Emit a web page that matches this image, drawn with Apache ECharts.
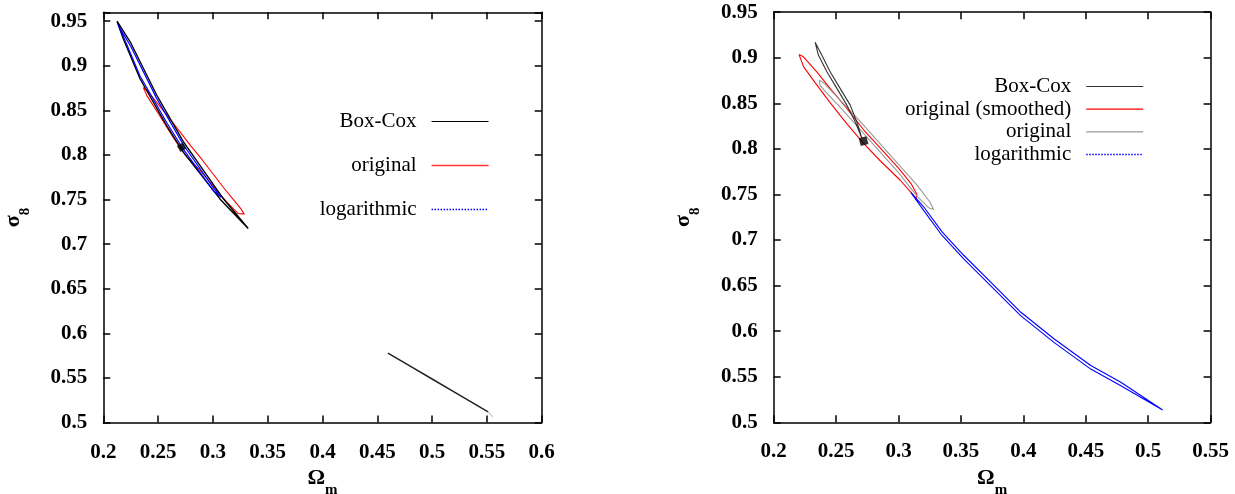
<!DOCTYPE html>
<html><head><meta charset="utf-8">
<script src="https://cdn.jsdelivr.net/npm/echarts@6/dist/echarts.min.js"></script>
<style>html,body{margin:0;padding:0;background:#fff}#c{width:1235px;height:494px}</style>
</head><body><div id="c"></div>
<script>
// ---------- axis ranges / ticks ----------
const tickStep = 0.05;
const leftXRange = [0.2, 0.6];
const leftYRange = [0.5, 0.96];
const rightXRange = [0.2, 0.55];
const rightYRange = [0.5, 0.95];

// ---------- legend labels ----------
const leftLegendLabels = ['Box-Cox', 'original', 'logarithmic'];
const rightLegendLabels = ['Box-Cox', 'original (smoothed)', 'original', 'logarithmic'];

// ---------- left panel contours ([Omega_m, sigma_8]) ----------
const leftBoxCox = [
  [0.2125,0.9500],[0.2244,0.9272],[0.2487,0.8673],[0.2730,0.8150],[0.3094,0.7512],[0.3322,0.7176],
  [0.3064,0.7508],[0.2730,0.8032],[0.2578,0.8330],[0.2335,0.8855],[0.2182,0.9303],[0.2125,0.9500]
];
const leftBoxCoxIsland = [
  [0.4597,0.5780],[0.4800,0.5633],[0.5000,0.5489],[0.5200,0.5345],[0.5511,0.5120]
];
const leftBoxCoxTail = [[0.5511,0.5120],[0.5554,0.5064]];
const leftOriginal = [
  [0.2365,0.8757],[0.2396,0.8727],[0.2500,0.8570],[0.2600,0.8415],[0.2700,0.8260],[0.2800,0.8100],
  [0.2900,0.7950],[0.3000,0.7790],[0.3100,0.7630],[0.3200,0.7480],[0.3260,0.7390],[0.3286,0.7337],
  [0.3231,0.7344],[0.3125,0.7474],[0.3034,0.7605],[0.2882,0.7830],[0.2761,0.7979],[0.2654,0.8166],
  [0.2578,0.8315],[0.2502,0.8465],[0.2400,0.8660],[0.2365,0.8757]
];
const leftLog = [
  [0.2137,0.9455],[0.2250,0.9220],[0.2487,0.8635],[0.2730,0.8115],[0.3000,0.7640],[0.3075,0.7525],
  [0.3000,0.7605],[0.2730,0.8065],[0.2578,0.8365],[0.2335,0.8885],[0.2190,0.9310],[0.2137,0.9455]
];
const leftFiducial = [[0.2715,0.8088]];

// ---------- right panel contours ----------
const rightBoxCox = [
  [0.2332,0.9169],[0.2385,0.9030],[0.2452,0.8846],[0.2532,0.8664],[0.2613,0.8480],[0.2666,0.8297],[0.2707,0.8114],
  [0.2653,0.8297],[0.2586,0.8480],[0.2506,0.8664],[0.2426,0.8846],[0.2358,0.9030],[0.2332,0.9169]
];
const rightOriginalSmoothed = [
  [0.2203,0.9035],[0.2238,0.9011],[0.2345,0.8846],[0.2452,0.8664],[0.2586,0.8444],[0.2720,0.8210],
  [0.2860,0.8000],[0.3000,0.7790],[0.3100,0.7620],[0.3148,0.7500],[0.3140,0.7455],
  [0.3108,0.7510],[0.3014,0.7656],[0.2853,0.7870],[0.2720,0.8060],[0.2590,0.8270],[0.2450,0.8510],
  [0.2330,0.8730],[0.2240,0.8900],[0.2203,0.9035]
];
const rightOriginal = [
  [0.2366,0.8755],[0.2400,0.8725],[0.2550,0.8510],[0.2700,0.8290],[0.2850,0.8060],[0.3000,0.7830],
  [0.3150,0.7600],[0.3250,0.7420],[0.3282,0.7334],
  [0.3240,0.7355],[0.3150,0.7480],[0.3000,0.7740],[0.2850,0.7970],[0.2700,0.8200],[0.2550,0.8430],
  [0.2420,0.8620],[0.2370,0.8700],[0.2366,0.8755]
];
const rightLog = [
  [0.3100,0.7520],[0.3201,0.7365],[0.3349,0.7090],[0.3522,0.6833],[0.3737,0.6540],[0.3978,0.6210],
  [0.4245,0.5917],[0.4540,0.5624],[0.4781,0.5440],[0.5116,0.5135],
  [0.5100,0.5128],[0.4781,0.5402],[0.4540,0.5584],[0.4245,0.5877],[0.3978,0.6170],[0.3737,0.6500],
  [0.3522,0.6793],[0.3349,0.7050],[0.3201,0.7325],[0.3120,0.7480],[0.3100,0.7520]
];
const rightFiducial = [[0.2720,0.8085]];

// ---------- chart ----------
const FONT = 'Liberation Serif';
function fmt(v) {
  const r = Math.round(v / tickStep);
  if (Math.abs(v - r * tickStep) > 1e-6) return '';
  return String(+v.toFixed(2));
}
const nameRich = {
  a: {fontFamily: FONT, fontSize: 22, fontWeight: 'bold', color: '#000', lineHeight: 30, verticalAlign: 'top'},
  b: {fontFamily: FONT, fontSize: 15, fontWeight: 'bold', color: '#000', lineHeight: 16, verticalAlign: 'bottom'}
};
const lineAx = {show: true, onZero: false, lineStyle: {color: '#000', width: 1.5}};
const tickAx = {show: true, inside: true, length: 7, lineStyle: {color: '#000', width: 1.5}};
const labelStyle = {fontFamily: FONT, fontSize: 21, fontWeight: 'bold', color: '#000', formatter: fmt, hideOverlap: false};

function xAxes(gi, r) {
  return [
    {type: 'value', gridIndex: gi, min: r[0], max: r[1], interval: tickStep, position: 'bottom',
     axisLine: lineAx, axisTick: tickAx, splitLine: {show: false},
     axisLabel: Object.assign({margin: 19, alignMinLabel: 'center', alignMaxLabel: 'center'}, labelStyle),
     name: '{a|Ω}{b|m}', nameLocation: 'middle', nameGap: 45, nameMoveOverlap: false,
     nameTextStyle: {rich: nameRich}},
    {type: 'value', gridIndex: gi, min: r[0], max: r[1], interval: tickStep, position: 'top',
     axisLine: lineAx, axisTick: tickAx, splitLine: {show: false}, axisLabel: {show: false}}
  ];
}
function yAxes(gi, r) {
  return [
    {type: 'value', gridIndex: gi, min: r[0], max: r[1], interval: tickStep, position: 'left',
     axisLine: lineAx, axisTick: tickAx, splitLine: {show: false},
     axisLabel: Object.assign({margin: 16}, labelStyle),
     name: '{a|σ}{b|8}', nameLocation: 'middle', nameGap: 71, nameRotate: 90, nameMoveOverlap: false,
     nameTextStyle: {rich: nameRich}},
    {type: 'value', gridIndex: gi, min: r[0], max: r[1], interval: tickStep, position: 'right',
     axisLine: lineAx, axisTick: tickAx, splitLine: {show: false}, axisLabel: {show: false}}
  ];
}
function contour(name, data, color, xi, width) {
  return {type: 'line', name: name, data: data, xAxisIndex: xi, yAxisIndex: xi,
    symbol: 'none', showSymbol: false, smooth: false, silent: true, animation: false,
    color: color, lineStyle: {color: color, width: width || 1.1}, z: 3};
}
const legendText = {fontFamily: FONT, fontSize: 21, color: '#000', padding: [0, 10, 0, 0], lineHeight: 21};

const option = {
  backgroundColor: '#fff',
  animation: false,
  grid: [
    {left: 103.3, top: 12.3, width: 438.4, height: 410.3, outerBoundsMode: 'none', containLabel: false},
    {left: 773.7, top: 12.2, width: 436.9, height: 410.1, outerBoundsMode: 'none', containLabel: false}
  ],
  xAxis: xAxes(0, leftXRange).concat(xAxes(1, rightXRange)),
  yAxis: yAxes(0, leftYRange).concat(yAxes(1, rightYRange)),
  legend: [
    {orient: 'vertical', align: 'right', right: 745.7, top: 111, padding: 0,
     itemWidth: 57, itemHeight: 10, itemGap: 23, selectedMode: false,
     itemStyle: {opacity: 0},
     formatter: n => n.slice(2), textStyle: legendText,
     data: [
       {name: 'L:' + leftLegendLabels[0], lineStyle: {width: 1.2, color: '#000000'}},
       {name: 'L:' + leftLegendLabels[1], lineStyle: {width: 1.5, color: '#ff3333'}},
       {name: 'L:' + leftLegendLabels[2], lineStyle: {width: 1.5, color: '#0000ff', type: 'dotted'}}
     ]},
    {orient: 'vertical', align: 'right', right: 91, top: 76, padding: 0,
     itemWidth: 57, itemHeight: 10, itemGap: 1.7, selectedMode: false,
     itemStyle: {opacity: 0},
     formatter: n => n.slice(2), textStyle: legendText,
     data: [
       {name: 'R:' + rightLegendLabels[0], lineStyle: {width: 1.2, color: '#333333'}},
       {name: 'R:' + rightLegendLabels[1], lineStyle: {width: 1.2, color: '#ff0000'}},
       {name: 'R:' + rightLegendLabels[2], lineStyle: {width: 1.2, color: '#999999'}},
       {name: 'R:' + rightLegendLabels[3], lineStyle: {width: 1.5, color: '#0000ff', type: 'dotted'}}
     ]}
  ],
  series: [
    contour('L:' + leftLegendLabels[1], leftOriginal, '#ff0000', 0),
    contour('L:' + leftLegendLabels[0], leftBoxCox, '#000000', 0, 1.4),
    contour('L:' + leftLegendLabels[2], leftLog, '#0000ff', 0, 1.2),
    contour('L:island', leftBoxCoxIsland, '#222222', 0, 1.5),
    contour('L:tail', leftBoxCoxTail, '#aaaaaa', 0, 1),
    {type: 'scatter', name: 'L:fiducial', data: leftFiducial, xAxisIndex: 0, yAxisIndex: 0,
     symbol: 'rect', symbolRotate: 30, symbolSize: 7, itemStyle: {color: '#000'}, z: 5, silent: true},

    contour('R:' + rightLegendLabels[1], rightOriginalSmoothed, '#ff0000', 2),
    contour('R:' + rightLegendLabels[2], rightOriginal, '#999999', 2),
    contour('R:' + rightLegendLabels[0], rightBoxCox, '#333333', 2),
    contour('R:' + rightLegendLabels[3], rightLog, '#0000ff', 2),
    {type: 'scatter', name: 'R:fiducial', data: rightFiducial, xAxisIndex: 2, yAxisIndex: 2,
     symbol: 'rect', symbolRotate: 15, symbolSize: 8, itemStyle: {color: '#000'}, z: 5, silent: true}
  ]
};
const chart = echarts.init(document.getElementById('c'), null, {renderer: 'canvas'});
chart.setOption(option);
</script>
</body></html>
